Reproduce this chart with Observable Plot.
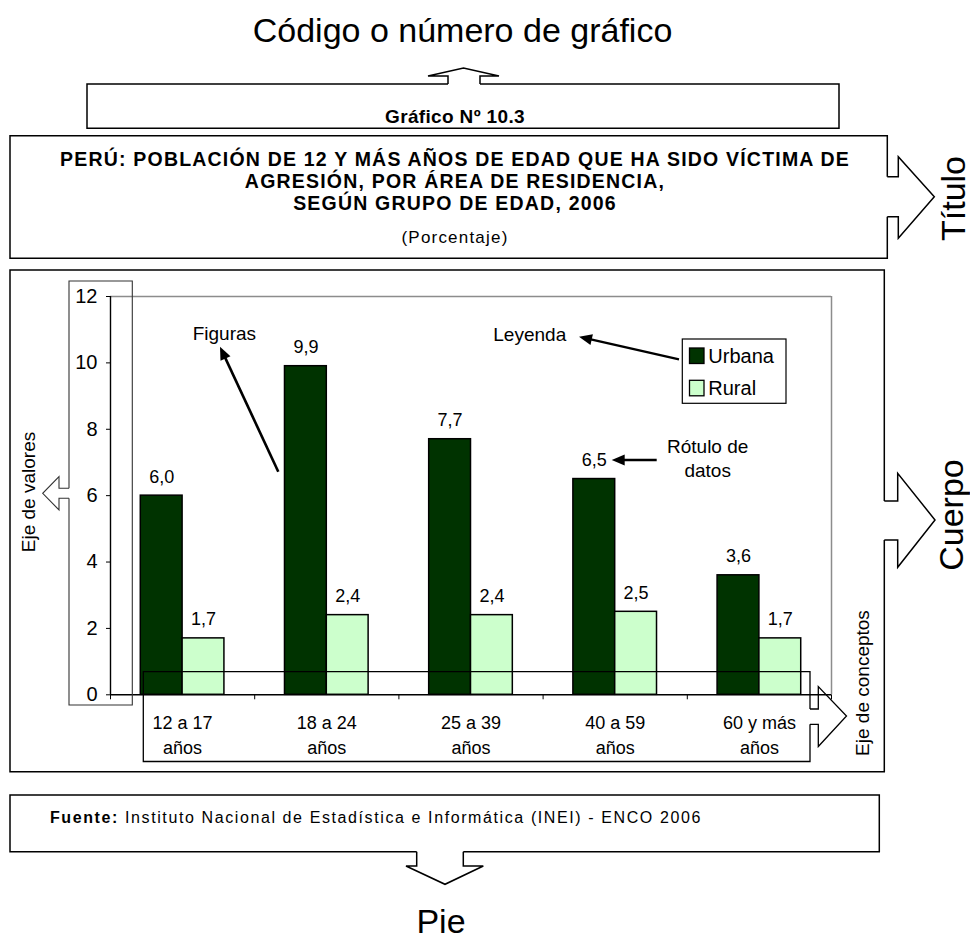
<!DOCTYPE html>
<html>
<head>
<meta charset="utf-8">
<script src="https://cdn.jsdelivr.net/npm/d3@7"></script>
<script src="https://cdn.jsdelivr.net/npm/@observablehq/plot@0.6"></script>
<style>
  html, body { margin: 0; padding: 0; background: #fff; }
  #wrap { position: relative; width: 970px; height: 940px; overflow: hidden; background: #fff; }
  #wrap svg { position: absolute; left: 0; top: 0; }
</style>
</head>
<body>
<div id="wrap"></div>
<script>
// ---------- data ----------
const categories = ["12 a 17\naños", "18 a 24\naños", "25 a 39\naños", "40 a 59\naños", "60 y más\naños"];
const series = ["Urbana", "Rural"];
const urbana = [6.0, 9.9, 7.7, 6.5, 3.6];
const rural = [1.7, 2.4, 2.4, 2.5, 1.7];
const seriesColors = ["#003300", "#CCFFCC"];
const yTicks = [0, 2, 4, 6, 8, 10, 12];

const codeLabel = "Código o número de gráfico";
const chartNumber = "Gráfico Nº 10.3";
const titleLines = [
  "PERÚ: POBLACIÓN DE 12 Y MÁS AÑOS DE EDAD QUE HA SIDO VÍCTIMA DE",
  "AGRESIÓN, POR ÁREA DE RESIDENCIA,",
  "SEGÚN GRUPO DE EDAD, 2006"
];
const unitLabel = "(Porcentaje)";
const sourceBold = "Fuente:";
const sourceText = " Instituto Nacional de Estadística e Informática (INEI) - ENCO 2006";
const partLabels = ["Título", "Cuerpo", "Pie"];
const noteLabels = ["Figuras", "Leyenda", "Rótulo de", "datos", "Eje de valores", "Eje de conceptos"];

// ---------- chart ----------
const FONT = "'Liberation Sans', Arial, Helvetica, sans-serif";
const rows = categories.flatMap((c, i) => [
  {cat: c, i, area: series[0], value: urbana[i]},
  {cat: c, i, area: series[1], value: rural[i]}
]);
const slot = {Urbana: [0.21, 0.5], Rural: [0.5, 0.79]};
const fmt = v => d3.format(".1f")(v).replace(".", ",");
const n = categories.length;

const chart = Plot.plot({
  width: 970,
  height: 940,
  marginLeft: 110,
  marginRight: 139,
  marginTop: 296,
  marginBottom: 245.7,
  style: {fontFamily: FONT, fontSize: "20px", color: "black", background: "transparent", overflow: "visible"},
  x: {type: "linear", domain: [0, n], ticks: d3.range(0, n + 1), tickSize: 5, tickFormat: () => "", label: null},
  y: {domain: [0, 12], ticks: yTicks, tickSize: 4, tickPadding: 9, tickFormat: d => String(d), label: null},
  color: {domain: series, range: seriesColors},
  marks: [
    Plot.ruleY([12], {stroke: "#8c8c8c", strokeWidth: 1.5}),
    Plot.ruleX([n], {stroke: "#8c8c8c", strokeWidth: 1.5}),
    Plot.rectY(rows, {
      x1: d => d.i + slot[d.area][0],
      x2: d => d.i + slot[d.area][1],
      y1: 0,
      y2: "value",
      fill: "area",
      stroke: "black",
      strokeWidth: 1.5
    }),
    Plot.ruleY([0], {stroke: "black", strokeWidth: 1.4}),
    Plot.ruleX([0], {stroke: "black", strokeWidth: 1.4}),
    Plot.text(rows, {
      x: d => d.i + (slot[d.area][0] + slot[d.area][1]) / 2,
      y: "value",
      text: d => fmt(d.value),
      lineAnchor: "bottom",
      dy: -13,
      fontSize: 18,
      fill: "black"
    }),
    Plot.text(categories, {
      x: (d, i) => i + 0.5,
      y: () => 0,
      text: d => d,
      lineAnchor: "bottom",
      lineHeight: 25 / 18,
      dy: 59,
      fontSize: 18,
      fill: "black"
    })
  ]
});
document.getElementById("wrap").appendChild(chart);

// ---------- annotation overlay ----------
const ov = d3.select("#wrap").append("svg")
  .attr("width", 970).attr("height", 940)
  .style("font-family", FONT)
  .style("pointer-events", "none");

function gapBox(x0, y0, x1, y1, side, a, b, sw, col) {
  let d;
  if (side === "top") d = `M${b},${y0}H${x1}V${y1}H${x0}V${y0}H${a}`;
  if (side === "right") d = `M${x1},${b}V${y1}H${x0}V${y0}H${x1}V${a}`;
  if (side === "bottom") d = `M${a},${y1}H${x0}V${y0}H${x1}V${y1}H${b}`;
  if (side === "left") d = `M${x0},${a}V${y0}H${x1}V${y1}H${x0}V${b}`;
  ov.append("path").attr("d", d).attr("fill", "none").attr("stroke", col || "black").attr("stroke-width", sw || 1.5);
}
function poly(pts, sw, col) {
  ov.append("path").attr("d", "M" + pts.map(p => p.join(",")).join("L"))
    .attr("fill", "none").attr("stroke", col || "black").attr("stroke-width", sw || 1.5)
    .attr("stroke-linejoin", "miter");
}
function lineArrow(x1, y1, x2, y2, w) {
  const dx = x2 - x1, dy = y2 - y1, L = Math.hypot(dx, dy), ux = dx / L, uy = dy / L;
  const hl = 13, hw = 5.5;
  const bx = x2 - ux * hl, by = y2 - uy * hl;
  ov.append("line").attr("x1", x1).attr("y1", y1).attr("x2", bx + ux * 2).attr("y2", by + uy * 2)
    .attr("stroke", "black").attr("stroke-width", w);
  ov.append("path").attr("d", `M${x2},${y2}L${bx - uy * hw},${by + ux * hw}L${bx + uy * hw},${by - ux * hw}Z`)
    .attr("fill", "black");
}
function txt(x, y, s, size, opts = {}) {
  const t = ov.append("text").attr("x", x).attr("y", y).text(s)
    .attr("font-size", size).attr("fill", "black")
    .attr("text-anchor", opts.anchor || "start");
  if (opts.bold) t.attr("font-weight", "bold");
  if (opts.ls) t.attr("letter-spacing", opts.ls);
  if (opts.rot) t.attr("transform", `rotate(-90,${x},${y})`);
  return t;
}

// top label
txt(462.5, 42.3, codeLabel, 34, {anchor: "middle"});

// Gráfico box with up arrow
gapBox(87, 84, 839, 128.3, "top", 448, 480);
poly([[448, 84], [448, 76], [428, 76], [463.5, 68], [499, 76], [480, 76], [480, 84]]);
txt(455, 123, chartNumber, 19, {anchor: "middle", bold: true, ls: 0.35});

// Title box with right arrow
gapBox(10, 135.7, 887.3, 258.3, "right", 176.7, 216.7);
poly([[887.3, 176.7], [898.3, 176.7], [898.3, 156.7], [934.3, 196.7], [898.3, 238.3], [898.3, 216.7], [887.3, 216.7]]);
const tb = [166, 188.3, 210];
titleLines.forEach((l, k) => txt(455, tb[k], l, 19.5, {anchor: "middle", bold: true, ls: 1.2}));
txt(455, 243, unitLabel, 17, {anchor: "middle", ls: 1.2});
txt(964.5, 198.5, partLabels[0], 34, {anchor: "middle", rot: true});

// Body box with right arrow
gapBox(10, 270, 884.3, 771.7, "right", 501, 540);
poly([[884.3, 501], [897.7, 501], [897.7, 473.3], [935, 520], [897.7, 567.3], [897.7, 540], [884.3, 540]]);
txt(962.6, 515, partLabels[1], 34, {anchor: "middle", rot: true});

// Eje de valores box with left arrow
gapBox(69, 281, 132.3, 705, "left", 488.3, 498.3, 1.1, "#333");
poly([[69, 488.3], [59, 488.3], [59, 476.7], [42.7, 493.3], [59, 510], [59, 498.3], [69, 498.3]], 1.1, "#333");
txt(35.3, 492, noteLabels[4], 19, {anchor: "middle", rot: true});

// Eje de conceptos box with right arrow
gapBox(143.3, 671.7, 810, 761.5, "right", 709, 724.3, 1.3);
poly([[810, 709], [818.3, 709], [818.3, 686.5], [846.5, 716], [818.3, 746.5], [818.3, 724.3], [810, 724.3]], 1.3);
txt(868.6, 683, noteLabels[5], 19, {anchor: "middle", rot: true});

// Figuras
txt(192.7, 340, noteLabels[0], 19);
lineArrow(278.3, 471.7, 220, 346.7, 2.6);

// Leyenda
txt(493.3, 341, noteLabels[1], 19);
lineArrow(679, 359.3, 579, 336.7, 2.4);

// Rótulo de datos
txt(707.7, 452.7, noteLabels[2], 19, {anchor: "middle"});
txt(707.7, 476.7, noteLabels[3], 19, {anchor: "middle"});
lineArrow(656.7, 460, 611.7, 460, 2.6);

// Legend
ov.append("rect").attr("x", 682.3).attr("y", 339).attr("width", 103.7).attr("height", 64.3)
  .attr("fill", "white").attr("stroke", "black").attr("stroke-width", 1.2);
series.forEach((s, k) => {
  const y0 = k === 0 ? 348 : 380.3;
  ov.append("rect").attr("x", 689.5).attr("y", y0).attr("width", 14.5).attr("height", 15.5)
    .attr("fill", seriesColors[k]).attr("stroke", "black").attr("stroke-width", 1.3);
  txt(708.3, y0 + 14.8, s, 20);
});

// Footer box with down arrow
gapBox(10, 795, 879.3, 851.7, "bottom", 416.7, 463.3);
poly([[416.7, 851.7], [416.7, 866], [406, 866], [445, 884.3], [483.3, 866], [463.3, 866], [463.3, 851.7]]);
const ft = ov.append("text").attr("x", 50).attr("y", 823.3).attr("font-size", 16).attr("letter-spacing", 1.6).attr("fill", "black");
ft.append("tspan").attr("font-weight", "bold").text(sourceBold);
ft.append("tspan").text(sourceText);
txt(441, 933, partLabels[2], 34, {anchor: "middle"});
</script>
</body>
</html>
